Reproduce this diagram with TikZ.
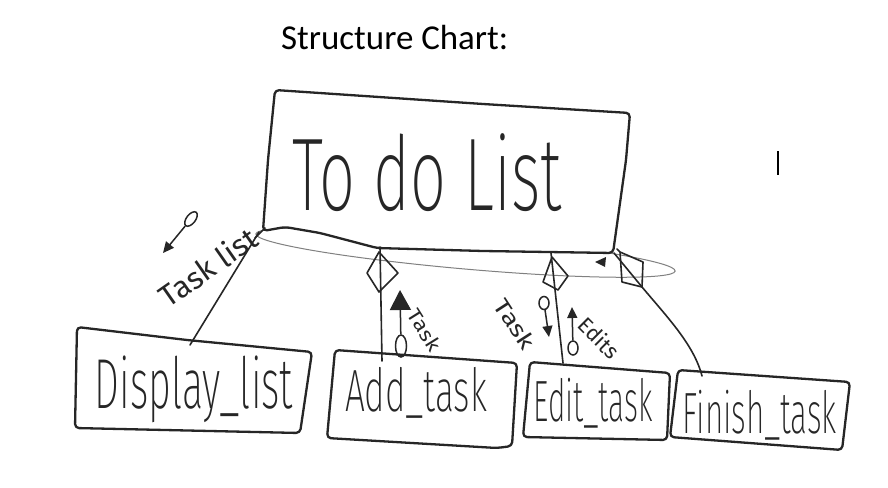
\documentclass[tikz,border=0pt]{standalone}
\usepackage{fontspec}
\usetikzlibrary{arrows.meta,shapes.geometric}
\newfontfamily\titlefont{Carlito}
\newfontfamily\hand{Fira Sans ExtraLight}
\newfontfamily\handsmall{Fira Sans}
\begin{document}
\begin{tikzpicture}[x=1pt,y=-1pt,
  box/.style={line width=2.3pt, line join=round, line cap=round, rounded corners=4pt, draw=black!85},
  conn/.style={line width=1.6pt, line cap=round, line join=round, draw=black!85},
  couple/.style={draw=black!85, line width=1.5pt},
  circ/.style={draw=black!85, line width=1.5pt, ellipse, inner sep=0pt},
  lbl/.style={inner sep=0pt, text=black!85}]
\useasboundingbox (0,0) rectangle (888,487);
\fill[white] (0,0) rectangle (888,487);

% title
\node[lbl, anchor=base west, text=black] (title) at (281,50) {\resizebox{227pt}{!}{\titlefont Structure Chart:}};

% text cursor
\draw[line width=1.2pt] (778,151) -- (778,175);

% grey ellipse round the calls
\draw[gray, line width=1pt, rotate around={-5.05:(465.5,252.5)}] (465.5,252.5) ellipse [x radius=210.5, y radius=16.5];

% main module
\draw[box, fill=white] (275,90) -- (483,104) -- (630,113) -- (626,160) -- (613,253) -- (483,251) -- (377,248) -- (320,233) -- (285,227) -- (263,231) -- (268,160) -- cycle;
\node[lbl] (main) at (427,173) {\resizebox*{269pt}{78pt}{\hand To do List}};

% sub modules
\draw[box] (77,327) -- (187,340) -- (312,352) -- (300,433) -- (75,428) -- cycle;
\node[lbl] (disp) at (194,389) {\resizebox*{198pt}{67pt}{\hand Display\_list}};

\draw[box] (335,350) -- (517,363) -- (512,446) -- (497,448) -- (327,438) -- cycle;
\node[lbl] (add) at (416,393) {\resizebox*{142pt}{51pt}{\hand Add\_task}};

\draw[box] (530,362) -- (670,373) -- (667,440) -- (523,437) -- cycle;
\node[lbl] (edit) at (593,403) {\resizebox*{119pt}{50pt}{\hand Edit\_task}};

\draw[box] (678,370) -- (850,382) -- (842,450) -- (670,437) -- cycle;
\node[lbl] (fin) at (760,415) {\resizebox*{154pt}{50pt}{\hand Finish\_task}};

% connector end points
\coordinate (mDisp) at (259,232);
\coordinate (sDisp) at (190,345);
\coordinate (mAdd) at (380,247);
\coordinate (sAdd) at (382,361);
\coordinate (mEdit) at (551,253);
\coordinate (sEdit) at (563,363);
\coordinate (mFin) at (614,253);
\coordinate (kFin) at (642,287);
\coordinate (sFin) at (702,376);

% connectors
\draw[conn] (mDisp) -- (sDisp);
\draw[conn] (265,228) -- (255,238);
\draw[conn] (mAdd) -- (sAdd);
\draw[conn] (mEdit) -- (sEdit);
\draw[conn] (mFin) -- (kFin) .. controls (668,318) and (694,345) .. (sFin);

% selection diamonds
\draw[conn] (379,252) -- (398,273) -- (379,292) -- (367,273) -- cycle;
\draw[conn] (552,257) -- (568,276) -- (558,290) -- (543,282) -- cycle;
\draw[conn] (617,249) -- (620,252) -- (643,262) -- (642,287) -- (622,282) -- (620,252);
\fill[black!85] (595,262) -- (606,257) -- (605,267) -- cycle;

% data couples
\node[circ, minimum width=17pt, minimum height=9pt, rotate=52] (cA) at (191,219) {};
\coordinate (tA) at (163,253);
\draw[couple, -{Triangle[width=10pt,length=11pt]}] (cA) -- (tA);
\node[lbl, rotate=35] (lA) at (208,267) {\resizebox*{112pt}{24pt}{\handsmall Task list}};

\node[circ, minimum width=11pt, minimum height=22pt] (cB) at (401,346) {};
\coordinate (tB) at (400,290);
\draw[couple, -{Triangle[width=21pt,length=20pt]}] (cB) -- (tB);
\node[lbl, rotate=-58] (lB) at (425,330) {\resizebox*{45pt}{15pt}{\handsmall Task}};

\node[circ, minimum width=10pt, minimum height=13pt] (cC) at (544,303) {};
\coordinate (tC) at (549,337);
\draw[couple, -{Triangle[width=10pt,length=11pt]}] (cC) -- (tC);
\node[lbl, rotate=-57] (lC) at (515,324) {\resizebox*{56pt}{17pt}{\handsmall Task}};

\node[circ, minimum width=10pt, minimum height=14pt] (cD) at (573,348) {};
\coordinate (tD) at (572,307);
\draw[couple, -{Triangle[width=10pt,length=11pt]}] (cD) -- (tD);
\node[lbl, rotate=-45] (lD) at (599,338) {\resizebox*{48pt}{17pt}{\handsmall Edits}};
\end{tikzpicture}
\end{document}
